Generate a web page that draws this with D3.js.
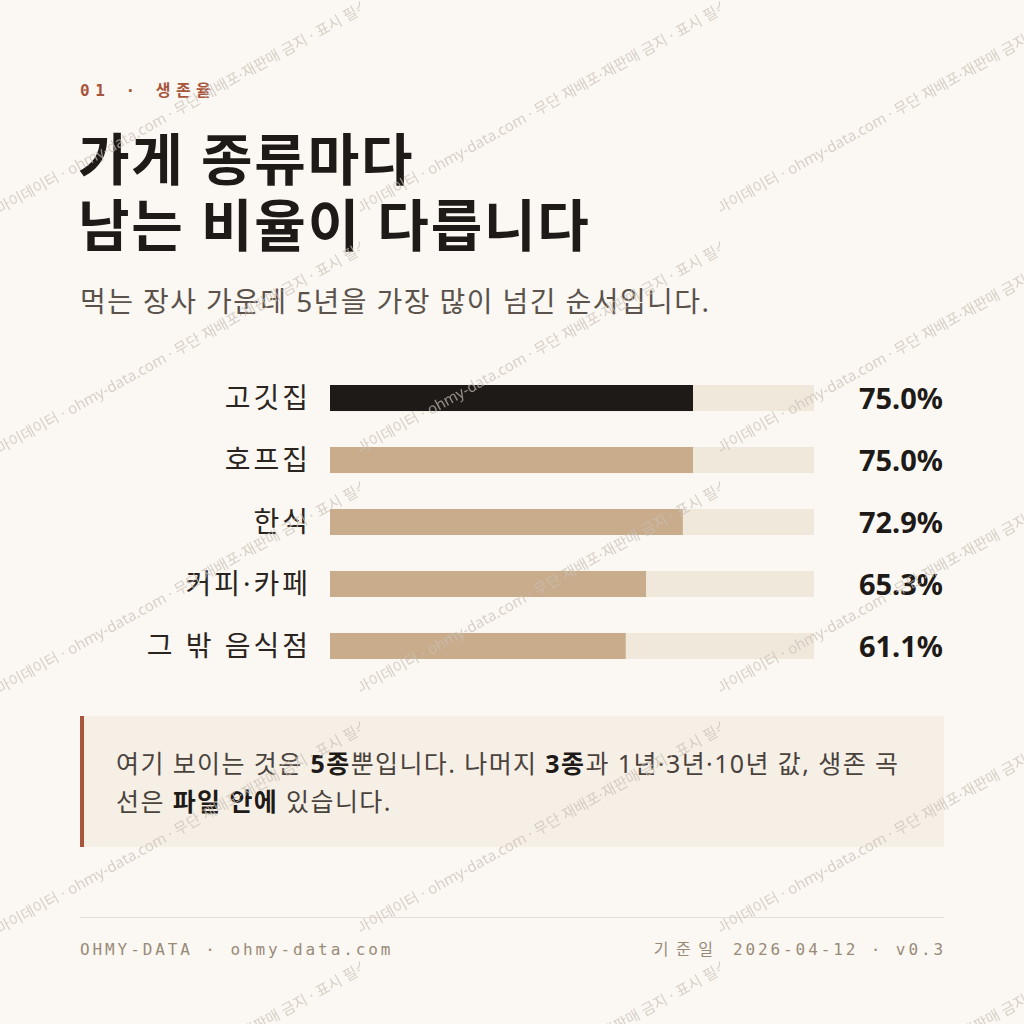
<!DOCTYPE html>
<html>
<head>
<meta charset="utf-8">
<script src="https://cdn.jsdelivr.net/npm/d3@7"></script>
<style>
  html, body { margin: 0; padding: 0; background: #FBF8F3; }
  svg { display: block; }
</style>
</head>
<body>
<div class="chart"></div>
<script>
const categories = ['고깃집', '호프집', '한식', '커피·카페', '그 밖 음식점'];
const survival5y = [75.0, 75.0, 72.9, 65.3, 61.1];
const highlight = '고깃집';

const kicker = '01 · 생존율';
const titleLines = ['가게 종류마다', '남는 비율이 다릅니다'];
const subtitle = '먹는 장사 가운데 5년을 가장 많이 넘긴 순서입니다.';
const noteLines = [
    [['여기 보이는 것은 ', false], ['5종', true], ['뿐입니다. 나머지 ', false], ['3종', true], ['과 1년·3년·10년 값, 생존 곡', false]],
    [['선은 ', false], ['파일 안에', true], [' 있습니다.', false]]
];
const footerLeft = 'OHMY-DATA · ohmy-data.com';
const footerRight = ['기준일', ' 2026-04-12 · v0.3'];
const watermark = '오마이데이터 · ohmy-data.com · 무단 재배포·재판매 금지 · 표시 필수';

const data = categories.map((c, i) => ({name: c, value: survival5y[i]}));

const W = 1024, H = 1024;
const sans = "'Noto Sans', 'Noto Sans CJK KR', sans-serif";
const mono = "'DejaVu Sans Mono', 'Noto Sans CJK KR', monospace";

const svg = d3.select('.chart').append('svg')
    .attr('width', W)
    .attr('height', H);

svg.append('rect')
    .attr('width', W).attr('height', H)
    .attr('fill', '#FBF8F3');

// header
svg.append('text')
    .attr('x', 80).attr('y', 96)
    .attr('font-family', mono)
    .attr('font-weight', 700)
    .attr('font-size', 16)
    .attr('letter-spacing', 5.5)
    .attr('fill', '#A8553D')
    .text(kicker);

svg.selectAll('.title')
    .data(titleLines)
    .enter()
    .append('text')
    .attr('class', 'title')
    .attr('x', 78)
    .attr('y', (d, i) => 180 + i * 66)
    .attr('font-family', sans)
    .attr('font-weight', 700)
    .attr('font-size', 56)
    .attr('letter-spacing', 1.8)
    .attr('fill', '#1E1A17')
    .text(d => d);

svg.append('text')
    .attr('x', 80).attr('y', 312)
    .attr('font-family', sans)
    .attr('font-size', 28)
    .attr('letter-spacing', 1.4)
    .attr('fill', '#5A524B')
    .text(subtitle);

// bars
const xScale = d3.scaleLinear()
    .domain([0, 100])
    .range([330, 814]);

const yScale = d3.scaleBand()
    .domain(categories)
    .range([385, 659])
    .paddingInner(0.58)
    .paddingOuter(0);

const rows = svg.append('g').attr('class', 'bars')
    .selectAll('g')
    .data(data)
    .enter()
    .append('g');

rows.append('rect')
    .attr('x', xScale(0))
    .attr('y', d => yScale(d.name))
    .attr('width', xScale(100) - xScale(0))
    .attr('height', yScale.bandwidth())
    .attr('fill', '#F1E8DC');

rows.append('rect')
    .attr('x', xScale(0))
    .attr('y', d => yScale(d.name))
    .attr('width', d => xScale(d.value) - xScale(0))
    .attr('height', yScale.bandwidth())
    .attr('fill', d => d.name === highlight ? '#1E1A17' : '#C8AC8B');

rows.append('text')
    .attr('x', 311)
    .attr('y', d => yScale(d.name) + yScale.bandwidth() / 2 + 10)
    .attr('text-anchor', 'end')
    .attr('font-family', sans)
    .attr('font-size', 28)
    .attr('letter-spacing', 3)
    .attr('fill', '#2A2420')
    .text(d => d.name);

rows.append('text')
    .attr('x', 943)
    .attr('y', d => yScale(d.name) + yScale.bandwidth() / 2 + 11)
    .attr('text-anchor', 'end')
    .attr('font-family', sans)
    .attr('font-weight', 700)
    .attr('font-size', 29)
    .attr('fill', '#1E1A17')
    .text(d => d3.format('.1f')(d.value) + '%');

// note box
svg.append('rect')
    .attr('x', 80).attr('y', 716)
    .attr('width', 864).attr('height', 131)
    .attr('fill', '#F6EFE6');
svg.append('rect')
    .attr('x', 80).attr('y', 716)
    .attr('width', 4).attr('height', 131)
    .attr('fill', '#A8553D');

const note = svg.append('text')
    .attr('font-family', sans)
    .attr('font-size', 25)
    .attr('letter-spacing', 1.4)
    .attr('fill', '#4A433D');

noteLines.forEach((line, i) => {
    line.forEach((part, j) => {
        const t = note.append('tspan')
            .attr('font-weight', part[1] ? 700 : 400)
            .attr('fill', part[1] ? '#1E1A17' : '#4A433D')
            .text(part[0]);
        if (j === 0) t.attr('x', 116).attr('y', 773 + i * 38);
    });
});

// footer
svg.append('line')
    .attr('x1', 80).attr('x2', 944)
    .attr('y1', 917.5).attr('y2', 917.5)
    .attr('stroke', '#E6DFD5')
    .attr('stroke-width', 1);

svg.append('text')
    .attr('x', 80).attr('y', 955)
    .attr('font-family', mono)
    .attr('font-size', 16)
    .attr('letter-spacing', 2.9)
    .attr('fill', '#998A78')
    .text(footerLeft);

const fr = svg.append('text')
    .attr('x', 946).attr('y', 955)
    .attr('text-anchor', 'end')
    .attr('font-family', mono)
    .attr('font-size', 16)
    .attr('letter-spacing', 2.9)
    .attr('fill', '#998A78');
fr.append('tspan').attr('letter-spacing', 7.5).text(footerRight[0]);
fr.append('tspan').text(footerRight[1]);

// watermark tiles over everything
const pat = svg.append('defs').append('pattern')
    .attr('id', 'wm')
    .attr('patternUnits', 'userSpaceOnUse')
    .attr('width', 360).attr('height', 240);

pat.append('text')
    .attr('transform', 'translate(-12,221) rotate(-29)')
    .attr('font-family', sans)
    .attr('font-size', 15)
    .attr('fill', '#C9C0B5')
    .attr('fill-opacity', 0.7)
    .text(watermark);

svg.append('rect')
    .attr('width', W).attr('height', H)
    .attr('fill', 'url(#wm)')
    .attr('pointer-events', 'none');
</script>
</body>
</html>
